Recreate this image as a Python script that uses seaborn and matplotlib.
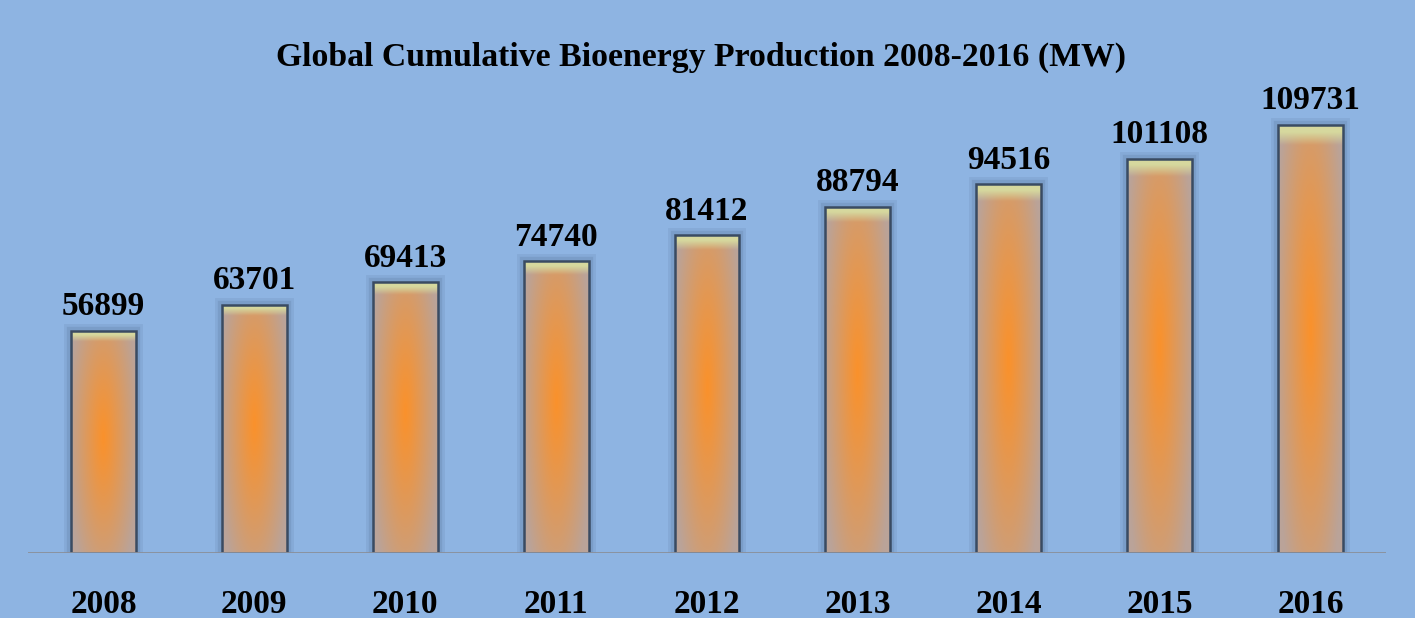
import numpy as np
import pandas as pd
import matplotlib
matplotlib.use("Agg")
import matplotlib.pyplot as plt
import seaborn as sns

years = ["2008", "2009", "2010", "2011", "2012", "2013", "2014", "2015", "2016"]
production = [56899, 63701, 69413, 74740, 81412, 88794, 94516, 101108, 109731]
title = "Global Cumulative Bioenergy Production 2008-2016 (MW)"

bg = "#8EB4E2"
font = ["Liberation Serif", "DejaVu Serif"]

df = pd.DataFrame({"year": years, "mw": production})

fig = plt.figure(figsize=(14.15, 6.18), dpi=100)
fig.patch.set_facecolor(bg)
ax = fig.add_axes([28 / 1415, 65 / 618, 1358 / 1415, 553 / 618])
ax.set_facecolor(bg)

sns.barplot(data=df, x="year", y="mw", ax=ax, width=0.43, color="#C89A70",
            edgecolor="none", linewidth=0, zorder=3)

ax.set_xlim(-0.5, 8.5)
ax.set_ylim(0, 109731 * 553 / 428)

# gradient fill for each bar (radial orange glow)
ny, nx = 300, 60
yy, xx = np.mgrid[0:1:complex(0, ny), 0:1:complex(0, nx)]
d = np.sqrt(((xx - 0.5) / 0.55) ** 2 + ((yy - 0.52) / 0.75) ** 2)
d = np.clip(d, 0, 1)
centre = np.array([0.98, 0.57, 0.17])
edge = np.array([0.73, 0.64, 0.60])
t = d[..., None] ** 1.1
img = centre * (1 - t) + edge * t
# pale highlight near top, fading down
hl = np.clip((yy - 0.955) / 0.03, 0, 1)[..., None]
img = img * (1 - hl) + np.array([0.84, 0.85, 0.62]) * hl

for p in ax.patches:
    x0, y0 = p.get_x(), p.get_y()
    w, h = p.get_width(), p.get_height()
    # soft glow around bar
    for lw, a in [(10, 0.12), (6, 0.18)]:
        ax.add_patch(plt.Rectangle((x0, y0), w, h, fill=False, edgecolor="#4A6488",
                                   linewidth=lw, alpha=a, zorder=2))
    im = ax.imshow(img, extent=[x0, x0 + w, y0, y0 + h], origin="lower",
                   aspect="auto", zorder=3.5, interpolation="bilinear")
    im.set_clip_path(p)
    ax.add_patch(plt.Rectangle((x0, y0), w, h, fill=False, edgecolor="#3A4B62",
                               linewidth=1.8, zorder=4))

for i, v in enumerate(production):
    ax.text(i, v + 2200, str(v), ha="center", va="bottom", fontsize=24,
            fontweight="bold", family=font, color="black", zorder=5)

ax.axhline(0, color="#8A8F9A", linewidth=2, zorder=4)
sns.despine(ax=ax, left=True, bottom=True, top=True, right=True)
ax.set_yticks([])
ax.set_xlabel("")
ax.set_ylabel("")
ax.tick_params(axis="x", length=0, pad=26)
for lab in ax.get_xticklabels():
    lab.set_fontsize(24)
    lab.set_fontweight("bold")
    lab.set_family(font)

fig.text(701 / 1415, 1 - 57 / 618, title, ha="center", va="center", fontsize=24.3,
         fontweight="bold", family=font)

fig.savefig("out.png", dpi=100, facecolor=bg)
